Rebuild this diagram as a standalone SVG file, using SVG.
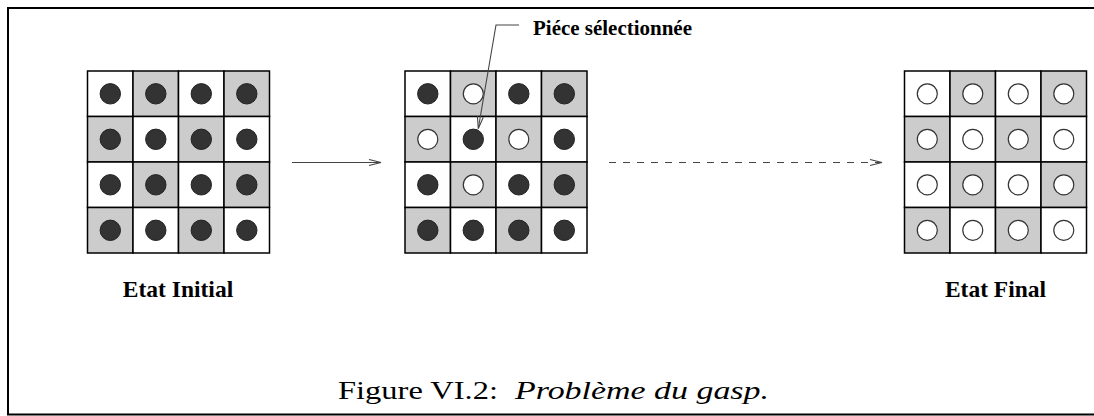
<svg xmlns="http://www.w3.org/2000/svg" width="1094" height="416" viewBox="0 0 1094 416">
<style>
.w{fill:#ffffff;stroke:#000;stroke-width:1.5}
.g{fill:#cccccc;stroke:#000;stroke-width:1.5}
.d{fill:#333333;stroke:#222;stroke-width:1}
.o{fill:#ffffff;stroke:#333;stroke-width:1.2}
.lbl{font-family:"Liberation Serif","Times New Roman",serif;font-weight:bold;fill:#000}
.cap{font-family:"Liberation Serif","Times New Roman",serif;fill:#000}
.ln{fill:none;stroke:#444;stroke-width:1.1}
</style>
<defs>
<marker id="ah" viewBox="0 0 14 8" refX="13" refY="4" markerWidth="14" markerHeight="8" markerUnits="userSpaceOnUse" orient="auto">
<path d="M1,1 L13,4 L1,7" fill="none" stroke="#444" stroke-width="1.1"/>
</marker>
</defs>
<rect x="0" y="0" width="1094" height="416" fill="#fff"/>
<g id="frame" fill="none" stroke="#000" stroke-width="2">
<path d="M1094,8 H8 V414.5 H1094"/>
</g>
<g id="etat-initial">
<rect class="w" x="87.5" y="71" width="45.5" height="45.5"/><rect class="g" x="133" y="71" width="45.5" height="45.5"/><rect class="w" x="178.5" y="71" width="45.5" height="45.5"/><rect class="g" x="224" y="71" width="45.5" height="45.5"/>
<rect class="g" x="87.5" y="116.5" width="45.5" height="45.5"/><rect class="w" x="133" y="116.5" width="45.5" height="45.5"/><rect class="g" x="178.5" y="116.5" width="45.5" height="45.5"/><rect class="w" x="224" y="116.5" width="45.5" height="45.5"/>
<rect class="w" x="87.5" y="162" width="45.5" height="45.5"/><rect class="g" x="133" y="162" width="45.5" height="45.5"/><rect class="w" x="178.5" y="162" width="45.5" height="45.5"/><rect class="g" x="224" y="162" width="45.5" height="45.5"/>
<rect class="g" x="87.5" y="207.5" width="45.5" height="45.5"/><rect class="w" x="133" y="207.5" width="45.5" height="45.5"/><rect class="g" x="178.5" y="207.5" width="45.5" height="45.5"/><rect class="w" x="224" y="207.5" width="45.5" height="45.5"/>
<circle class="d" cx="110.3" cy="93.8" r="10.2"/><circle class="d" cx="155.8" cy="93.8" r="10.2"/><circle class="d" cx="201.3" cy="93.8" r="10.2"/><circle class="d" cx="246.8" cy="93.8" r="10.2"/>
<circle class="d" cx="110.3" cy="139.3" r="10.2"/><circle class="d" cx="155.8" cy="139.3" r="10.2"/><circle class="d" cx="201.3" cy="139.3" r="10.2"/><circle class="d" cx="246.8" cy="139.3" r="10.2"/>
<circle class="d" cx="110.3" cy="184.8" r="10.2"/><circle class="d" cx="155.8" cy="184.8" r="10.2"/><circle class="d" cx="201.3" cy="184.8" r="10.2"/><circle class="d" cx="246.8" cy="184.8" r="10.2"/>
<circle class="d" cx="110.3" cy="230.3" r="10.2"/><circle class="d" cx="155.8" cy="230.3" r="10.2"/><circle class="d" cx="201.3" cy="230.3" r="10.2"/><circle class="d" cx="246.8" cy="230.3" r="10.2"/>
<text class="lbl" x="178" y="297" font-size="23.5" text-anchor="middle">Etat Initial</text>
</g>
<g id="etat-intermediaire">
<rect class="w" x="405" y="71" width="45.5" height="45.5"/><rect class="g" x="450.5" y="71" width="45.5" height="45.5"/><rect class="w" x="496" y="71" width="45.5" height="45.5"/><rect class="g" x="541.5" y="71" width="45.5" height="45.5"/>
<rect class="g" x="405" y="116.5" width="45.5" height="45.5"/><rect class="w" x="450.5" y="116.5" width="45.5" height="45.5"/><rect class="g" x="496" y="116.5" width="45.5" height="45.5"/><rect class="w" x="541.5" y="116.5" width="45.5" height="45.5"/>
<rect class="w" x="405" y="162" width="45.5" height="45.5"/><rect class="g" x="450.5" y="162" width="45.5" height="45.5"/><rect class="w" x="496" y="162" width="45.5" height="45.5"/><rect class="g" x="541.5" y="162" width="45.5" height="45.5"/>
<rect class="g" x="405" y="207.5" width="45.5" height="45.5"/><rect class="w" x="450.5" y="207.5" width="45.5" height="45.5"/><rect class="g" x="496" y="207.5" width="45.5" height="45.5"/><rect class="w" x="541.5" y="207.5" width="45.5" height="45.5"/>
<circle class="d" cx="427.8" cy="93.8" r="10.2"/><circle class="o" cx="473.3" cy="93.8" r="10"/><circle class="d" cx="518.8" cy="93.8" r="10.2"/><circle class="d" cx="564.3" cy="93.8" r="10.2"/>
<circle class="o" cx="427.8" cy="139.3" r="10"/><circle class="d" cx="473.3" cy="139.3" r="10.2"/><circle class="o" cx="518.8" cy="139.3" r="10"/><circle class="d" cx="564.3" cy="139.3" r="10.2"/>
<circle class="d" cx="427.8" cy="184.8" r="10.2"/><circle class="o" cx="473.3" cy="184.8" r="10"/><circle class="d" cx="518.8" cy="184.8" r="10.2"/><circle class="d" cx="564.3" cy="184.8" r="10.2"/>
<circle class="d" cx="427.8" cy="230.3" r="10.2"/><circle class="d" cx="473.3" cy="230.3" r="10.2"/><circle class="d" cx="518.8" cy="230.3" r="10.2"/><circle class="d" cx="564.3" cy="230.3" r="10.2"/>
</g>
<g id="etat-final">
<rect class="w" x="904.5" y="71" width="45.5" height="45.5"/><rect class="g" x="950" y="71" width="45.5" height="45.5"/><rect class="w" x="995.5" y="71" width="45.5" height="45.5"/><rect class="g" x="1041" y="71" width="45.5" height="45.5"/>
<rect class="g" x="904.5" y="116.5" width="45.5" height="45.5"/><rect class="w" x="950" y="116.5" width="45.5" height="45.5"/><rect class="g" x="995.5" y="116.5" width="45.5" height="45.5"/><rect class="w" x="1041" y="116.5" width="45.5" height="45.5"/>
<rect class="w" x="904.5" y="162" width="45.5" height="45.5"/><rect class="g" x="950" y="162" width="45.5" height="45.5"/><rect class="w" x="995.5" y="162" width="45.5" height="45.5"/><rect class="g" x="1041" y="162" width="45.5" height="45.5"/>
<rect class="g" x="904.5" y="207.5" width="45.5" height="45.5"/><rect class="w" x="950" y="207.5" width="45.5" height="45.5"/><rect class="g" x="995.5" y="207.5" width="45.5" height="45.5"/><rect class="w" x="1041" y="207.5" width="45.5" height="45.5"/>
<circle class="o" cx="927.3" cy="93.8" r="10"/><circle class="o" cx="972.8" cy="93.8" r="10"/><circle class="o" cx="1018.3" cy="93.8" r="10"/><circle class="o" cx="1063.8" cy="93.8" r="10"/>
<circle class="o" cx="927.3" cy="139.3" r="10"/><circle class="o" cx="972.8" cy="139.3" r="10"/><circle class="o" cx="1018.3" cy="139.3" r="10"/><circle class="o" cx="1063.8" cy="139.3" r="10"/>
<circle class="o" cx="927.3" cy="184.8" r="10"/><circle class="o" cx="972.8" cy="184.8" r="10"/><circle class="o" cx="1018.3" cy="184.8" r="10"/><circle class="o" cx="1063.8" cy="184.8" r="10"/>
<circle class="o" cx="927.3" cy="230.3" r="10"/><circle class="o" cx="972.8" cy="230.3" r="10"/><circle class="o" cx="1018.3" cy="230.3" r="10"/><circle class="o" cx="1063.8" cy="230.3" r="10"/>
<text class="lbl" x="995.5" y="297" font-size="23.5" text-anchor="middle">Etat Final</text>
</g>
<g id="label-piece">
<text class="lbl" x="533" y="35" font-size="20.5" textLength="159" lengthAdjust="spacingAndGlyphs">Piéce sélectionnée</text>
</g>
<g id="connectors">
<line class="ln" x1="292" y1="162.5" x2="381" y2="162.5" marker-end="url(#ah)"/>
<line class="ln" x1="609" y1="162.5" x2="882" y2="162.5" stroke-dasharray="7 7" marker-end="url(#ah)"/>
<path class="ln" d="M519,25 H496 L478.3,128.5" marker-end="url(#ah)"/>
</g>
<g id="caption">
<text class="cap" x="338" y="399" font-size="26" textLength="160" lengthAdjust="spacingAndGlyphs">Figure VI.2:</text>
<text class="cap" x="515" y="399" font-size="26" font-style="italic" textLength="254" lengthAdjust="spacingAndGlyphs">Problème du gasp.</text>
</g>
</svg>
